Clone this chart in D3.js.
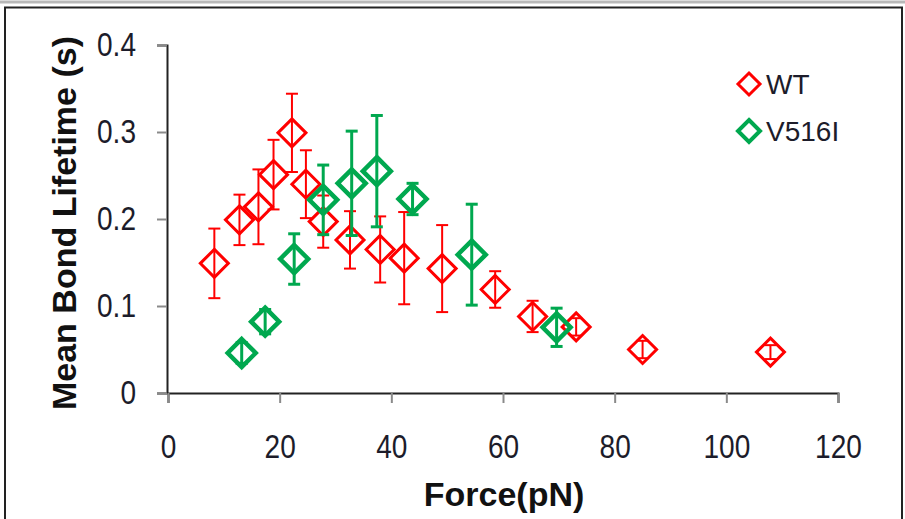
<!DOCTYPE html>
<html>
<head>
<meta charset="utf-8">
<script src="https://cdn.jsdelivr.net/npm/d3@7/dist/d3.min.js"></script>
<style>
  html, body { margin: 0; padding: 0; background: #fff; }
  svg { display: block; }
  .tick text { font-family: "Liberation Sans", Arial, sans-serif; font-size: 33px; fill: #1c1c2a; }
</style>
</head>
<body>
<svg id="chart" width="905" height="519"></svg>
<script>
// Mean bond lifetime vs. applied force, wild type and V516I mutant
const wtForce = [8.3, 12.8, 16.2, 18.9, 22.2, 24.7, 27.8, 32.6, 38.0, 42.3, 49.1, 58.6, 65.3, 73.1, 85.0, 107.9];
const wtLifetime = [0.149, 0.199, 0.214, 0.251, 0.299, 0.240, 0.197, 0.176, 0.165, 0.155, 0.143, 0.119, 0.088, 0.076, 0.050, 0.047];
const wtError = [0.040, 0.029, 0.043, 0.040, 0.045, 0.039, 0.030, 0.033, 0.038, 0.053, 0.050, 0.021, 0.018, 0.010, 0.010, 0.008];

const mutForce = [13.2, 17.4, 22.6, 27.8, 32.9, 37.4, 43.8, 54.4, 69.6];
const mutLifetime = [0.046, 0.082, 0.154, 0.222, 0.241, 0.255, 0.223, 0.159, 0.0755];
const mutError = [0.012, 0.014, 0.029, 0.040, 0.060, 0.064, 0.018, 0.058, 0.022];

const xTicks = [0, 20, 40, 60, 80, 100, 120];
const yTicks = [0, 0.1, 0.2, 0.3, 0.4];
const seriesNames = ["WT", "V516I"];

const svg = d3.select("#chart");

// outer frame
svg.append("line").attr("x1", 0).attr("x2", 905).attr("y1", 2).attr("y2", 2)
  .attr("stroke", "#b8b8b8").attr("stroke-width", 3);
svg.append("rect").attr("x", 5).attr("y", 7.5).attr("width", 897).attr("height", 530)
  .attr("fill", "none").attr("stroke", "#222").attr("stroke-width", 2);

const x = d3.scaleLinear().domain([0, 120]).range([168, 838]);
const y = d3.scaleLinear().domain([0, 0.4]).range([393, 45]);

// condensed tick lettering
const narrow = 0.85;

// axes
const yAxis = svg.append("g").attr("transform", "translate(167,0)")
  .call(d3.axisLeft(y).tickValues(yTicks).tickSize(10).tickPadding(21)
    .tickFormat(d => d === 0 ? "0" : d3.format(".1f")(d)));
yAxis.selectAll(".tick text")
  .attr("x", -31 / narrow).attr("transform", `scale(${narrow},1)`);
const xAxis = svg.append("g").attr("transform", "translate(0,393)")
  .call(d3.axisBottom(x).tickValues(xTicks).tickSize(10).tickPadding(32));
xAxis.selectAll(".tick text").attr("transform", `scale(${narrow},1)`);
[xAxis, yAxis].forEach(g => {
  g.select(".domain").attr("stroke", "#222").attr("stroke-width", 2);
  g.selectAll(".tick line").attr("stroke", "#8a8a8a").attr("stroke-width", 2);
});

// axis titles
svg.append("text").attr("x", 504).attr("y", 506).attr("text-anchor", "middle")
  .attr("font-family", "Liberation Sans, Arial, sans-serif").attr("font-weight", "bold")
  .attr("font-size", 34).attr("fill", "#111").text("Force(pN)");
svg.append("text").attr("transform", "translate(76,223) rotate(-90)").attr("text-anchor", "middle")
  .attr("font-family", "Liberation Sans, Arial, sans-serif").attr("font-weight", "bold")
  .attr("font-size", 34).attr("fill", "#111").text("Mean Bond Lifetime (s)");

const diamond = r => `M0,${-r}L${r},0L0,${r}L${-r},0Z`;

function drawSeries(force, mean, err, color, markerWidth, barWidth) {
  const data = force.map((f, i) => ({ f, m: mean[i], e: err[i] }));
  const g = svg.append("g");
  const bars = g.selectAll(".eb").data(data).join("g")
    .attr("stroke", color).attr("stroke-width", barWidth);
  bars.append("line").attr("x1", d => x(d.f)).attr("x2", d => x(d.f))
    .attr("y1", d => y(d.m + d.e)).attr("y2", d => y(d.m - d.e));
  bars.append("line").attr("x1", d => x(d.f) - 6).attr("x2", d => x(d.f) + 6)
    .attr("y1", d => y(d.m + d.e)).attr("y2", d => y(d.m + d.e));
  bars.append("line").attr("x1", d => x(d.f) - 6).attr("x2", d => x(d.f) + 6)
    .attr("y1", d => y(d.m - d.e)).attr("y2", d => y(d.m - d.e));
  g.selectAll(".mk").data(data).join("path")
    .attr("d", diamond(14))
    .attr("transform", d => `translate(${x(d.f)},${y(d.m)})`)
    .attr("fill", "none").attr("stroke", color).attr("stroke-width", markerWidth);
}

const colors = ["#ff0000", "#00a84f"];
drawSeries(wtForce, wtLifetime, wtError, colors[0], 3, 2);
drawSeries(mutForce, mutLifetime, mutError, colors[1], 4.5, 3);

// legend
const legend = svg.append("g");
seriesNames.forEach((name, i) => {
  const ly = 84 + i * 47;
  legend.append("path").attr("d", diamond(11)).attr("transform", `translate(749,${ly})`)
    .attr("fill", "none").attr("stroke", colors[i]).attr("stroke-width", i === 0 ? 3 : 4);
  legend.append("text").attr("x", 766).attr("y", ly + 10)
    .attr("font-family", "Liberation Sans, Arial, sans-serif").attr("font-size", 28)
    .attr("fill", "#1c1c2a").text(name);
});
</script>
</body>
</html>
